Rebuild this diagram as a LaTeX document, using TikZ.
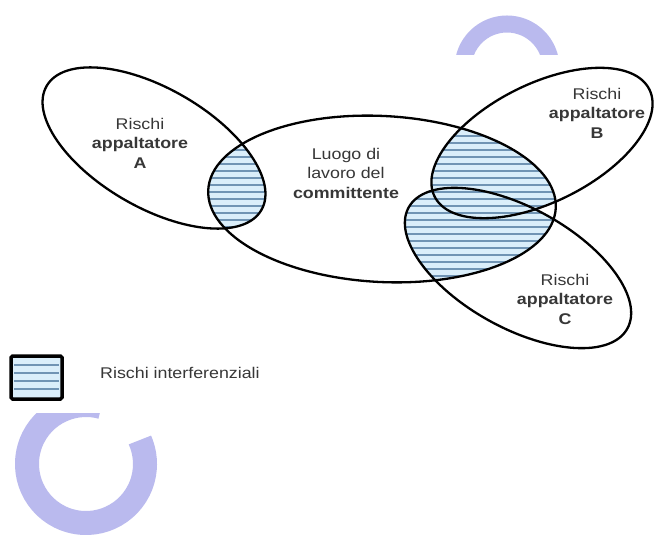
\documentclass[tikz,border=0pt]{standalone}
\usepackage{fontspec}
\setmainfont{Liberation Sans}
\newfontfamily\lblfont[FakeStretch=1.15]{Liberation Sans}
\definecolor{wmcol}{RGB}{186,186,238}
\definecolor{hatchbg}{RGB}{218,238,250}
\definecolor{hatchln}{RGB}{112,148,180}
\definecolor{txt}{RGB}{55,55,55}
\begin{document}
\begin{tikzpicture}[x=1pt,y=1pt,
  outline/.style={draw=black, line width=2.3pt},
  hatchline/.style={draw=hatchln, line width=1.3pt},
  wm/.style={draw=wmcol, line width=17pt},
  lbl/.style={align=center, font=\lblfont\fontsize{15.5}{19.5}\selectfont, text=txt, inner sep=0pt},
  elA/.style={rotate around={-30:(cA)}},
  elB/.style={rotate around={26.5:(cB)}},
  elC/.style={rotate around={-29:(cC)}},
  elE/.style={rotate around={-3:(cE)}}]
\useasboundingbox (0,0) rectangle (655,-537);
\fill[white] (0,0) rectangle (655,-537);
\coordinate (cA) at (154,-148);
\coordinate (cB) at (542,-143);
\coordinate (cC) at (518,-268);
\coordinate (cE) at (382,-199);
\coordinate (wmT) at (507,-68);
\coordinate (wmB) at (86,-464);
% watermark
\draw[wm] (wmT) circle[radius=44];
\draw[wm, line width=24pt] (wmB) ++(75:59) arc[start angle=75, end angle=384, radius=59];
\fill[white] (0,-55) rectangle (655,-413);
% hatched intersections
\begin{scope}
  \clip[elE] (cE) ellipse [x radius=174, y radius=83];
  \fill[hatchbg, elA] (cA) ellipse [x radius=124, y radius=59.5];
  \fill[hatchbg, elB] (cB) ellipse [x radius=120, y radius=59];
  \fill[hatchbg, elC] (cC) ellipse [x radius=125, y radius=60];
  \begin{scope}
    \clip[elA] (cA) ellipse [x radius=124, y radius=59.5];
    \foreach \yy in {0,...,30} {\draw[hatchline] (150,{-101-7*\yy}) -- (660,{-101-7*\yy});}
  \end{scope}
  \begin{scope}
    \clip[elB] (cB) ellipse [x radius=120, y radius=59];
    \foreach \yy in {0,...,30} {\draw[hatchline] (150,{-101-7*\yy}) -- (660,{-101-7*\yy});}
  \end{scope}
  \begin{scope}
    \clip[elC] (cC) ellipse [x radius=125, y radius=60];
    \foreach \yy in {0,...,30} {\draw[hatchline] (150,{-101-7*\yy}) -- (660,{-101-7*\yy});}
  \end{scope}
\end{scope}
% outlines
\draw[outline, elA] (cA) ellipse [x radius=124, y radius=59.5];
\draw[outline, elE] (cE) ellipse [x radius=174, y radius=83];
\draw[outline, elB] (cB) ellipse [x radius=120, y radius=59];
\draw[outline, elC] (cC) ellipse [x radius=125, y radius=60];
% labels
\node[lbl] (tA) at (140,-143) {Rischi\\\textbf{appaltatore}\\\textbf{A}};
\node[lbl] (tE) at (346,-173) {Luogo di\\lavoro del\\\textbf{committente}};
\node[lbl] (tB) at (597,-113) {Rischi\\\textbf{appaltatore}\\\textbf{B}};
\node[lbl] (tC) at (565,-299) {Rischi\\\textbf{appaltatore}\\\textbf{C}};
% legend
\draw[line width=3.5pt, rounded corners=1.5pt, fill=hatchbg] (11,-356) rectangle (62,-399);
\foreach \yy in {365,373,381,389} {\draw[hatchline] (14,-\yy) -- (59,-\yy);}
\node[lbl, anchor=west] (leg) at (100,-373) {Rischi interferenziali};
\end{tikzpicture}
\end{document}
